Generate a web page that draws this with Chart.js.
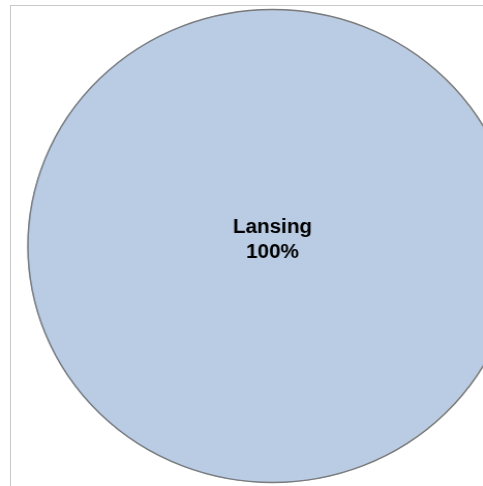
<!DOCTYPE html>
<html>
<head>
<meta charset="utf-8">
<script src="https://cdn.jsdelivr.net/npm/chart.js@4.4.1/dist/chart.umd.min.js"></script>
<style>
    html, body { margin: 0; padding: 0; background: #ffffff; overflow: hidden; }
    body { width: 483px; height: 486px; position: relative; }
    .frame {
        position: absolute; left: 10px; top: 5px; width: 600px; height: 600px;
        border-left: 1px solid #c9c9c9; border-top: 1px solid #c9c9c9;
    }
    /* the source picture is slightly stretched sideways */
    .chart-box {
        position: absolute; left: 0; top: 0; width: 510px; height: 486px;
        transform: scaleX(1.034); transform-origin: 0 0;
    }
</style>
</head>
<body>
<div class="frame"></div>
<div class="chart-box"><canvas id="pieChart"></canvas></div>
<script>
const cities = ['Lansing'];
const shares = [100];
const sliceColors = ['#b9cce4'];

let pieChart = null;

document.addEventListener('DOMContentLoaded', function() {
    renderChart();
});

// outline round the whole pie (a single 100% slice would otherwise show a seam line)
const pieOutline = {
    id: 'pieOutline',
    afterDatasetsDraw(chart) {
        const ctx = chart.ctx;
        const arc = chart.getDatasetMeta(0).data[0];
        if (!arc) return;
        ctx.save();
        ctx.beginPath();
        ctx.arc(arc.x, arc.y, arc.outerRadius - 0.5, 0, Math.PI * 2);
        ctx.strokeStyle = '#7a7a7a';
        ctx.lineWidth = 1.5;
        ctx.stroke();
        ctx.restore();
    }
};

// draws "name" and "xx%" in the middle of each slice
const sliceLabels = {
    id: 'sliceLabels',
    afterDatasetsDraw(chart) {
        const ctx = chart.ctx;
        const meta = chart.getDatasetMeta(0);
        const total = shares.reduce((a, b) => a + b, 0);
        ctx.save();
        ctx.font = 'bold 20px "Liberation Sans", Arial, sans-serif';
        ctx.fillStyle = '#000000';
        ctx.textAlign = 'center';
        ctx.textBaseline = 'alphabetic';
        meta.data.forEach((arc, i) => {
            let x, y;
            if (shares[i] === total) {
                x = arc.x;
                y = arc.y;
            } else {
                const pos = arc.tooltipPosition();
                x = pos.x;
                y = pos.y;
            }
            const pct = Math.round(shares[i] / total * 100) + '%';
            ctx.fillText(cities[i], x, y - 13);
            ctx.fillText(pct, x, y + 12);
        });
        ctx.restore();
    }
};

function renderChart() {
    const ctx = document.getElementById('pieChart').getContext('2d');

    pieChart = new Chart(ctx, {
        type: 'pie',
        data: {
            labels: cities,
            datasets: [{
                data: shares,
                backgroundColor: sliceColors,
                borderWidth: 0
            }]
        },
        options: {
            responsive: true,
            maintainAspectRatio: false,
            animation: false,
            layout: {
                padding: { left: 26, top: 9, right: 9, bottom: 3 }
            },
            plugins: {
                legend: { display: false },
                tooltip: { enabled: false }
            }
        },
        plugins: [pieOutline, sliceLabels]
    });
}
</script>
</body>
</html>
